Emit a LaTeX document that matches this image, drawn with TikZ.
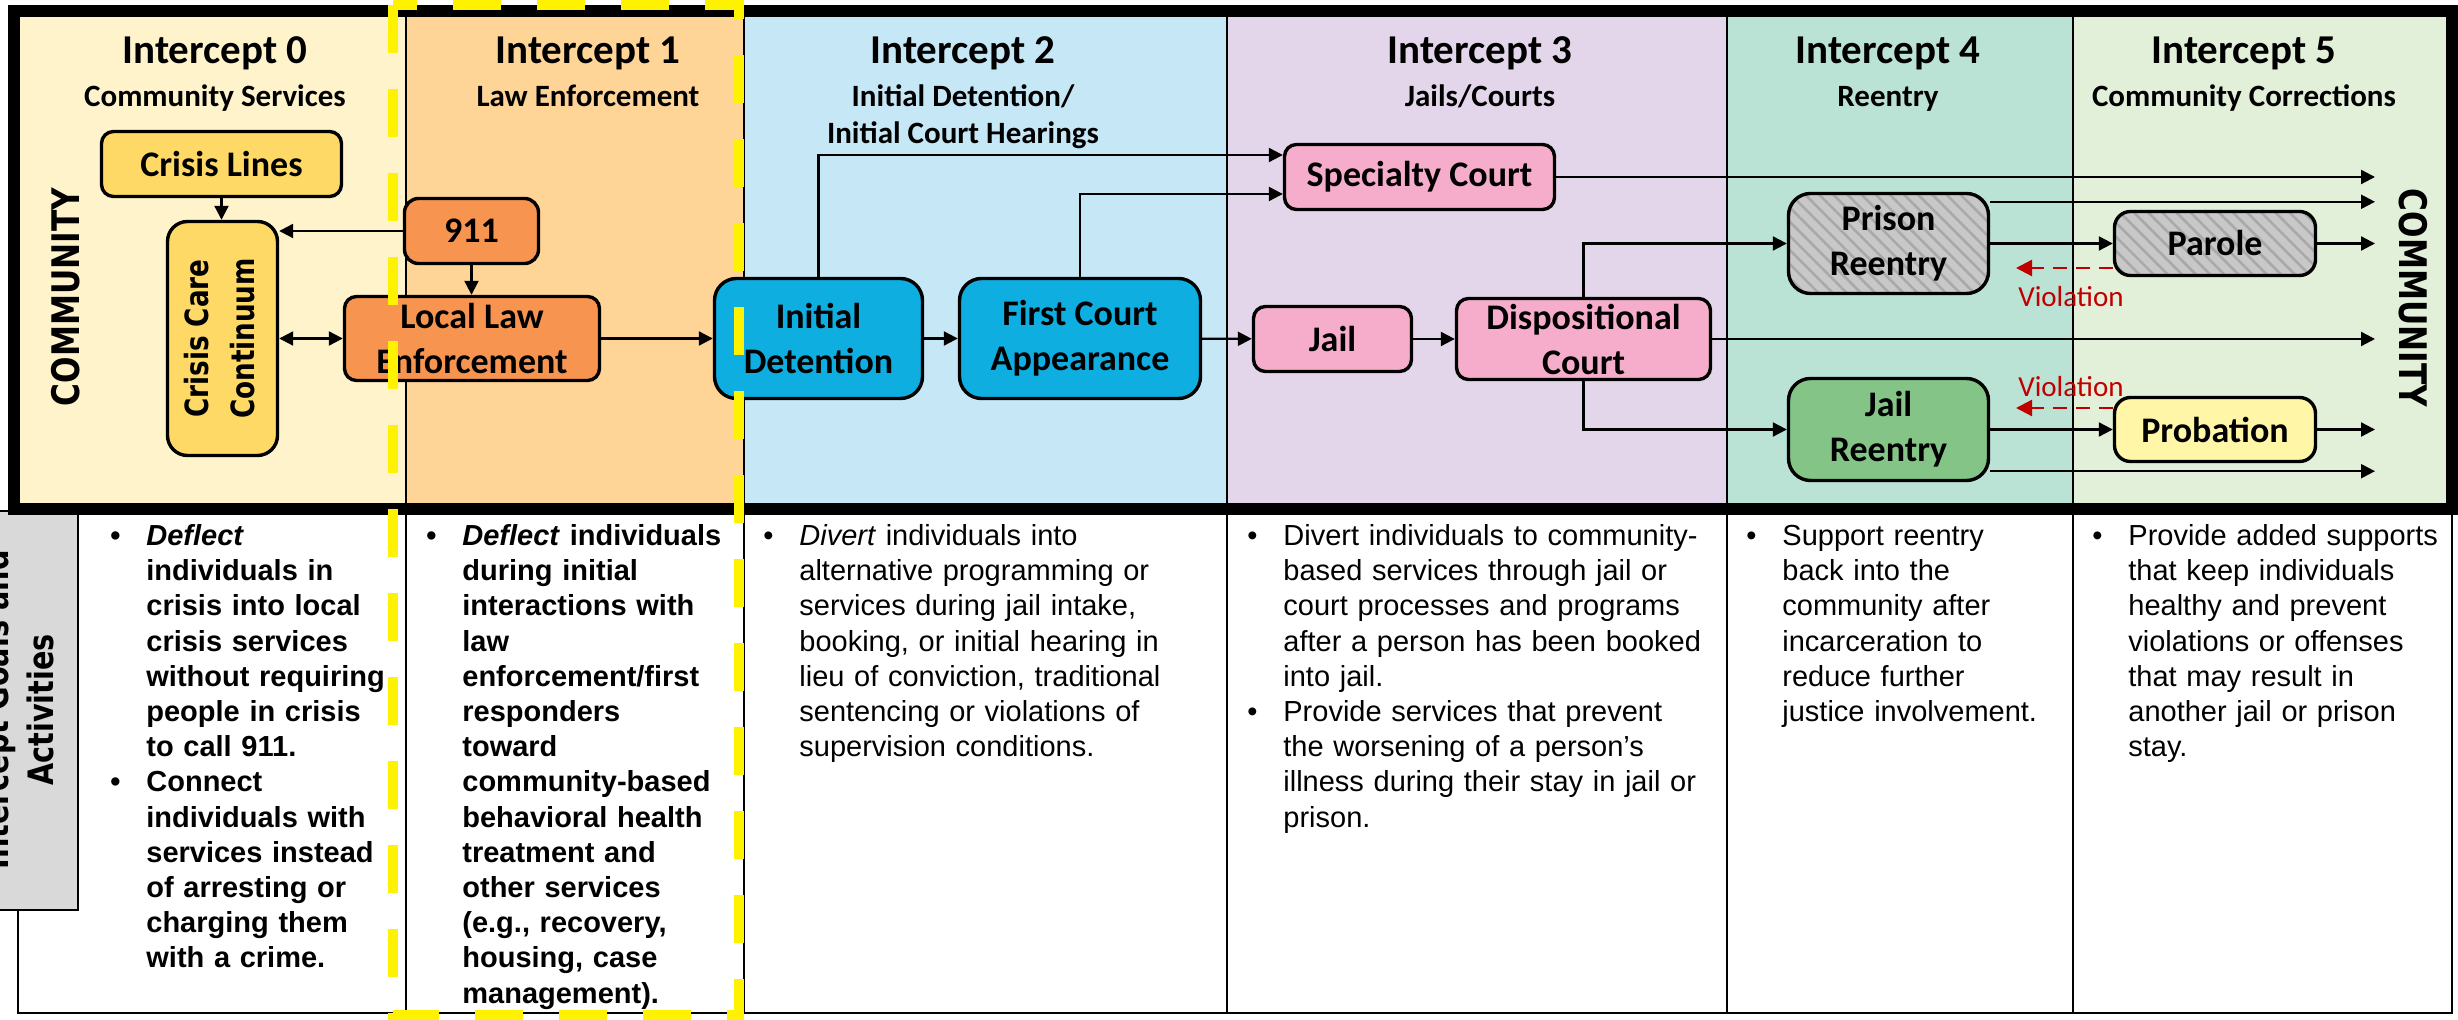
\documentclass[tikz,border=0pt]{standalone}
\usepackage{fontspec}
\setmainfont{Liberation Sans}
\newfontfamily\boxfont{Carlito}
\newfontfamily\widefont[FakeStretch=0.82]{DejaVu Sans}
\usetikzlibrary{positioning, arrows.meta, calc, patterns.meta}
\definecolor{czero}{HTML}{FFF3CC}
\definecolor{cone}{HTML}{FED597}
\definecolor{ctwo}{HTML}{C5E7F6}
\definecolor{cthree}{HTML}{E4D6EA}
\definecolor{cfour}{HTML}{BAE2D5}
\definecolor{cfive}{HTML}{E2F0DA}
\definecolor{bgold}{HTML}{FFD966}
\definecolor{borange}{HTML}{F79550}
\definecolor{bcyan}{HTML}{0FAEE1}
\definecolor{bpink}{HTML}{F5ADCB}
\definecolor{bgray}{HTML}{C8C8C8}
\definecolor{bhatch}{HTML}{A9A9A9}
\definecolor{bgreen}{HTML}{84C587}
\definecolor{byellow}{HTML}{FFF6A8}
\definecolor{vred}{HTML}{C00000}
\definecolor{labgray}{HTML}{D9D9D9}
\newcommand{\bitem}[1]{\par\hangindent=18pt\hangafter=1\noindent\strut\makebox[18pt][l]{\textbullet}#1\par}

\begin{document}
\begin{tikzpicture}[x=0.5pt, y=-0.5pt,
    box/.style={draw=black, line width=1.7pt, rounded corners=6pt, inner sep=0pt, align=center, font=\boxfont\bfseries\fontsize{18}{22.5}\selectfont},
    hatch/.style={box, preaction={fill=bgray}, preaction={pattern={Lines[angle=-45,distance=5pt,line width=1.3pt]}, pattern color=bhatch}},
    ttl/.style={anchor=base, font=\boxfont\bfseries\fontsize{20.5}{24}\selectfont},
    sub/.style={anchor=base, align=center, font=\boxfont\bfseries\fontsize{15.5}{18.5}\selectfont},
    vert/.style={font=\widefont\bfseries\fontsize{19}{22}\selectfont},
    arr/.style={line width=1.1pt, -{Triangle[length=7pt,width=7pt]}},
    viol/.style={draw=vred, line width=1.2pt, dash pattern=on 7pt off 4.5pt, -{Triangle[length=8pt,width=8pt]}},
    vlab/.style={text=vred, font=\boxfont\fontsize{14.5}{17}\selectfont},
    desc/.style={anchor=north west, inner sep=0pt, text width=250pt, align=left, font=\fontsize{14.5}{17.6}\selectfont}]
  \useasboundingbox (0,0) rectangle (2458,1020);
  % column backgrounds
  \foreach \xa/\xb/\c in {14/406/czero, 406/744/cone, 744/1227/ctwo, 1227/1727/cthree, 1727/2073/cfour, 2073/2452/cfive}
    \fill[\c] (\xa,11) rectangle (\xb,509);
  % table below and dividers
  \draw[line width=0.9pt] (18,509) rectangle (2452,1013);
  \foreach \x in {406,744,1227,1727,2073}
    \draw[line width=0.9pt] (\x,11) -- (\x,1013);
  % row label
  \draw[line width=0.9pt, fill=labgray] (-10,511) rectangle (78,910);
  \node[rotate=90, align=center, font=\widefont\bfseries\fontsize{17.5}{22.5}\selectfont] (rowlab) at (18,710) {Intercept Goals and\\Activities};
  % frame
  \draw[line width=6pt] (14,11) rectangle (2452,509);

  % headings
  \node[ttl] (t0) at (215,64) {Intercept 0};
  \node[sub] (s0) at (215,107) {Community Services};
  \node[ttl] (t1) at (588,64) {Intercept 1};
  \node[sub] (s1) at (588,107) {Law Enforcement};
  \node[ttl] (t2) at (963,64) {Intercept 2};
  \node[sub] (s2) at (963,144) {Initial Detention/\\Initial Court Hearings};
  \node[ttl] (t3) at (1480,64) {Intercept 3};
  \node[sub] (s3) at (1480,107) {Jails/Courts};
  \node[ttl] (t4) at (1888,64) {Intercept 4};
  \node[sub] (s4) at (1888,107) {Reentry};
  \node[ttl] (t5) at (2244,64) {Intercept 5};
  \node[sub] (s5) at (2244,107) {Community Corrections};

  \node[vert, rotate=90] (commL) at (66,297) {COMMUNITY};
  \node[vert, rotate=-90] (commR) at (2413,298) {COMMUNITY};

  % boxes
  \node[box, fill=bgold, minimum width=120pt, minimum height=32.5pt] (cl) at (221.5,164) {Crisis Lines};
  \node[box, fill=bgold, rounded corners=10pt, minimum width=55pt, minimum height=117pt, font=\widefont\bfseries\fontsize{16}{23}\selectfont] (ccc) at (222.5,338.5) {\rotatebox{90}{\begin{tabular}{@{}c@{}}Crisis Care\\Continuum\end{tabular}}};
  \node[box, fill=borange, rounded corners=7pt, minimum width=67pt, minimum height=32.5pt] (n911) at (471.5,231) {911};
  \node[box, fill=borange, minimum width=127.5pt, minimum height=42pt] (lle) at (472,338.5) {Local Law\\Enforcement};
  \node[box, fill=bcyan, rounded corners=11pt, minimum width=104pt, minimum height=60pt] (idet) at (818.5,338.5) {Initial\\Detention};
  \node[box, fill=bcyan, rounded corners=11pt, minimum width=120.5pt, minimum height=60pt] (fca) at (1080,338.5) {First Court\\Appearance};
  \node[box, fill=bpink, minimum width=79pt, minimum height=32.5pt] (jail) at (1332.5,339) {Jail};
  \node[box, fill=bpink, minimum width=127pt, minimum height=40.5pt] (disp) at (1583.5,339) {Dispositional\\Court};
  \node[box, fill=bpink, minimum width=135pt, minimum height=32.5pt] (spec) at (1419.5,177) {Specialty Court};
  \node[hatch, rounded corners=11pt, minimum width=100pt, minimum height=50pt] (prison) at (1888.5,243.5) {Prison\\Reentry};
  \node[hatch, rounded corners=8pt, minimum width=100.5pt, minimum height=32pt] (parole) at (2215,243.5) {Parole};
  \node[box, fill=bgreen, rounded corners=11pt, minimum width=100pt, minimum height=51pt] (jre) at (1888.5,429.5) {Jail\\Reentry};
  \node[box, fill=byellow, rounded corners=8pt, minimum width=100.5pt, minimum height=32pt] (prob) at (2215,429.5) {Probation};

  \coordinate (rend) at (2375,0);
  \coordinate (vp) at (2016,268);
  \coordinate (vb) at (2016,408);
  \coordinate (ptop) at ($(prison.north east)+(0,10)$);
  \coordinate (jbot) at ($(jre.south east)+(0,-11)$);

  % connectors
  \draw[arr] (cl.south) -- (cl.south |- ccc.north);
  \draw[arr] (n911.west) -- (n911.west -| ccc.east);
  \draw[arr] (n911.south) -- (n911.south |- lle.north);
  \draw[{Triangle[length=7pt,width=7pt]}-{Triangle[length=7pt,width=7pt]}, line width=1.1pt] (ccc.east |- lle.west) -- (lle.west);
  \draw[arr] (lle) -- (idet);
  \draw[arr] (idet) -- (fca);
  \draw[arr] (fca) -- (jail);
  \draw[arr] (jail) -- (disp);
  \draw[arr] (idet.north) |- ($(spec.west)+(0,-22)$);
  \draw[arr] (fca.north) |- ($(spec.west)+(0,17)$);
  \draw[arr] (spec.east) -- (spec.east -| rend);
  \draw[arr] (ptop) -- (ptop -| rend);
  \draw[arr] (disp.north) |- (prison.west);
  \draw[arr] (prison) -- (parole);
  \draw[arr] (parole.east) -- (parole.east -| rend);
  \draw[arr] (disp.east) -- (disp.east -| rend);
  \draw[arr] (disp.south) |- (jre.west);
  \draw[arr] (jre) -- (prob);
  \draw[arr] (prob.east) -- (prob.east -| rend);
  \draw[arr] (jbot) -- (jbot -| rend);
  \draw[viol] (vp -| parole.west) -- (vp);
  \node[vlab] (v1) at (2071,297) {Violation};
  \draw[viol] (vb -| prob.west) -- (vb);
  \node[vlab] (v2) at (2071,387) {Violation};

  % goals and activities
  \node[desc, font=\bfseries\fontsize{14.5}{17.6}\selectfont] (d0) at (110,510) {\bitem{\textit{Deflect}\newline individuals in\newline crisis into local\newline crisis services\newline without requiring\newline people in crisis\newline to call 911.}\bitem{Connect\newline individuals with\newline services instead\newline of arresting or\newline charging them\newline with a crime.}};
  \node[desc, font=\bfseries\fontsize{14.5}{17.6}\selectfont] (d1) at (426,510) {\bitem{\textit{Deflect} individuals\newline during initial\newline interactions with\newline law\newline enforcement/first\newline responders\newline toward\newline community-based\newline behavioral health\newline treatment and\newline other services\newline (e.g., recovery,\newline housing, case\newline management).}};
  \node[desc] (d2) at (763,510) {\bitem{\textit{Divert} individuals into\newline alternative programming or\newline services during jail intake,\newline booking, or initial hearing in\newline lieu of conviction, traditional\newline sentencing or violations of\newline supervision conditions.}};
  \node[desc] (d3) at (1247,510) {\bitem{Divert individuals to community-\newline based services through jail or\newline court processes and programs\newline after a person has been booked\newline into jail.}\bitem{Provide services that prevent\newline the worsening of a person’s\newline illness during their stay in jail or\newline prison.}};
  \node[desc] (d4) at (1746,510) {\bitem{Support reentry\newline back into the\newline community after\newline incarceration to\newline reduce further\newline justice involvement.}};
  \node[desc] (d5) at (2092,510) {\bitem{Provide added supports\newline that keep individuals\newline healthy and prevent\newline violations or offenses\newline that may result in\newline another jail or prison\newline stay.}};

  % highlighted intercept
  \draw[yellow, line width=5pt, dash pattern=on 24pt off 18pt] (393,5) rectangle (739,1015);
\end{tikzpicture}
\end{document}
